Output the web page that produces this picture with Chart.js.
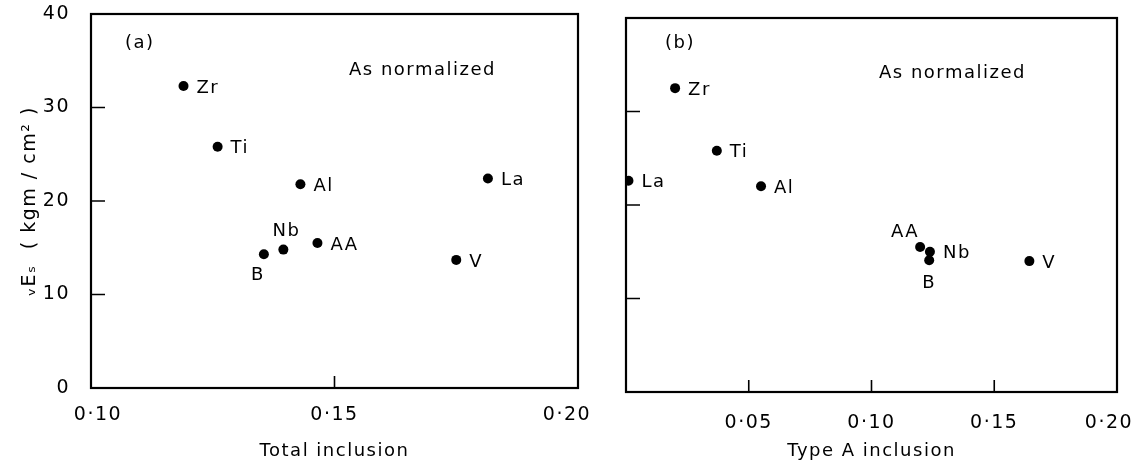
<!DOCTYPE html>
<html>
<head>
<meta charset="utf-8">
<script src="https://cdn.jsdelivr.net/npm/chart.js@4/dist/chart.umd.min.js"></script>
<style>
html, body { margin: 0; padding: 0; background: #fff; }
#wrap { position: relative; width: 1138px; height: 465px; }
.panel { position: absolute; top: 0; height: 465px; }
#pa { left: 0; width: 600px; }
#pb { left: 600px; width: 538px; }
</style>
</head>
<body>
<div id="wrap">
  <div class="panel" id="pa"><canvas id="chartA"></canvas></div>
  <div class="panel" id="pb"><canvas id="chartB"></canvas></div>
</div>
<script>
// element additions, same order in every array
const elements = ['Zr', 'Ti', 'Al', 'La', 'B', 'Nb', 'AA', 'V'];

// (a) total inclusion vs vEs
const totalInclusion = [0.119, 0.126, 0.143, 0.1815, 0.1355, 0.1395, 0.1465, 0.175];
const esTotal = [32.3, 25.8, 21.8, 22.4, 14.3, 14.8, 15.5, 13.7];

// (b) type A inclusion vs vEs
const typeAInclusion = [0.020, 0.037, 0.055, 0.001, 0.1235, 0.1238, 0.1198, 0.1643];
const esTypeA = [32.5, 25.8, 22.0, 22.6, 14.1, 15.0, 15.5, 14.0];

const FONT = '"DejaVu Sans", sans-serif';

// where each element name sits relative to its dot
const placeA = { Zr: 'right', Ti: 'right', Al: 'right', La: 'right', V: 'right', AA: 'right', Nb: 'above', B: 'belowLeft' };
const placeB = { Zr: 'right', Ti: 'right', Al: 'right', La: 'right', V: 'right', Nb: 'right', AA: 'aboveLeft', B: 'below' };

const offsets = {
  right:     { dx: 13, dy: 2,   align: 'left' },
  above:     { dx: 3,  dy: -18, align: 'center' },
  belowLeft: { dx: -6, dy: 21,  align: 'center' },
  aboveLeft: { dx: -15, dy: -15, align: 'center' },
  below:     { dx: 0,  dy: 23,  align: 'center' }
};

const fmt = v => (Math.abs(v) < 1e-9 ? '' : v.toFixed(2).replace('.', '\u00b7'));

// wide letter spacing like the original lettering,
// and nudge the end tick labels inward a little (keeps 0·20 on the page)
const spacingPlugin = {
  id: 'spacing',
  beforeDraw(chart, args, opts) {
    chart.ctx.letterSpacing = '1.5px';
    const items = chart.scales.x.getLabelItems(chart.chartArea);
    items[0].options.translation[0] += opts.first;
    items[items.length - 1].options.translation[0] += opts.last;
  }
};

// frame, inward ticks, point names and panel notes
const framePlugin = {
  id: 'frame',
  afterDatasetsDraw(chart, args, opts) {
    const { ctx, chartArea: a, scales: { x, y } } = chart;
    ctx.save();
    ctx.strokeStyle = '#000';
    ctx.lineWidth = 2.2;
    ctx.strokeRect(a.left, a.top, a.right - a.left, a.bottom - a.top);

    ctx.lineWidth = 1.6;
    ctx.beginPath();
    y.ticks.forEach(t => {
      if (t.value > y.min && t.value < y.max) {
        const py = y.getPixelForValue(t.value);
        ctx.moveTo(a.left, py);
        ctx.lineTo(a.left + 14, py);
      }
    });
    x.ticks.forEach(t => {
      if (t.value > x.min + 1e-9 && t.value < x.max - 1e-9) {
        const px = x.getPixelForValue(t.value);
        ctx.moveTo(px, a.bottom);
        ctx.lineTo(px, a.bottom - 12);
      }
    });
    ctx.stroke();

    ctx.fillStyle = '#000';
    ctx.font = '18px ' + FONT;
    ctx.textBaseline = 'middle';
    ctx.letterSpacing = '1.5px';
    const pts = chart.getDatasetMeta(0).data;
    pts.forEach((p, i) => {
      const name = opts.names[i];
      const o = offsets[opts.place[name]];
      ctx.textAlign = o.align;
      ctx.fillText(name, p.x + o.dx, p.y + o.dy);
    });

    ctx.textAlign = 'left';
    opts.notes.forEach(n => {
      ctx.font = n.size + 'px ' + FONT;
      ctx.fillText(n.text, a.left + n.dx, a.top + n.dy);
    });
    ctx.restore();
  }
};

function makeChart(id, xs, ys, xmin, place, notes, opts) {
  return new Chart(document.getElementById(id), {
    type: 'scatter',
    data: {
      datasets: [{
        data: xs.map((v, i) => ({ x: v, y: ys[i] })),
        backgroundColor: '#000',
        borderWidth: 0,
        pointRadius: 5
      }]
    },
    options: {
      responsive: true,
      maintainAspectRatio: false,
      animation: false,
      events: [],
      layout: { padding: opts.padding },
      plugins: {
        legend: { display: false },
        tooltip: { enabled: false },
        spacing: opts.nudge,
        frame: { names: elements, place: place, notes: notes }
      },
      scales: {
        x: {
          type: 'linear',
          min: xmin,
          max: 0.2,
          grid: { display: false },
          border: { display: false },
          ticks: {
            stepSize: 0.05,
            autoSkip: false,
            maxRotation: 0,
            padding: opts.xPad,
            color: '#000',
            font: { family: FONT, size: 19 },
            callback: v => fmt(v)
          },
          title: {
            display: true,
            text: opts.xTitle,
            color: '#000',
            font: { family: FONT, size: 18 },
            padding: { top: 0, bottom: 3 }
          },
          afterFit: s => { s.height = opts.xHeight; s.paddingLeft = 0; s.paddingRight = 0; }
        },
        y: {
          type: 'linear',
          min: 0,
          max: 40,
          grid: { display: false },
          border: { display: false },
          ticks: {
            display: opts.yLabels,
            stepSize: 10,
            padding: 13,
            color: '#000',
            font: { family: FONT, size: 19 }
          },
          title: {
            display: opts.yLabels,
            text: '\u1d65E\u209b  ( kgm / cm\u00b2 )',
            color: '#000',
            font: { family: FONT, size: 19 },
            padding: { top: 19, bottom: 0 }
          },
          afterFit: s => { s.width = opts.yWidth; s.paddingTop = 0; s.paddingBottom = 0; }
        }
      }
    },
    plugins: [spacingPlugin, framePlugin]
  });
}

makeChart('chartA', totalInclusion, esTotal, 0.1, placeA,
  [{ text: '(a)', dx: 34, dy: 29, size: 18 }, { text: 'As normalized', dx: 258, dy: 56, size: 18 }],
  { padding: { top: 14, right: 22, bottom: 0, left: 0 }, xHeight: 77, yWidth: 91, yLabels: true, xPad: 8,
    nudge: { first: 7, last: -11 }, xTitle: 'Total inclusion' });

makeChart('chartB', typeAInclusion, esTypeA, 0, placeB,
  [{ text: '(b)', dx: 39, dy: 25, size: 18 }, { text: 'As normalized', dx: 253, dy: 55, size: 18 }],
  { padding: { top: 18, right: 21, bottom: 0, left: 0 }, xHeight: 73, yWidth: 26, yLabels: false, xPad: 12,
    nudge: { first: 0, last: -8 }, xTitle: 'Type A inclusion' });
</script>
</body>
</html>
